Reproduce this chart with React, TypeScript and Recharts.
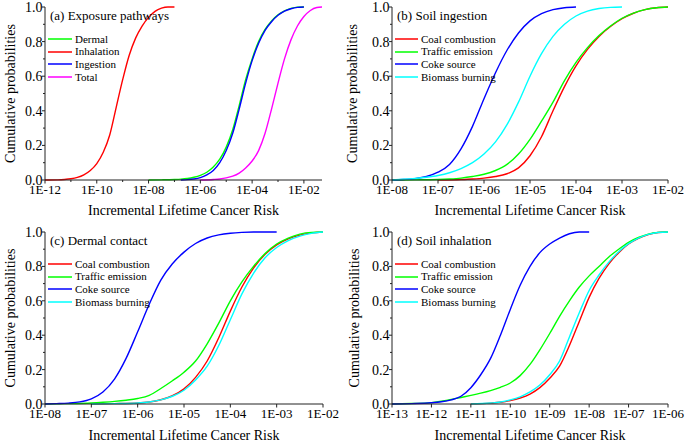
import React from 'react';
import { LineChart, Line, XAxis, YAxis, Legend } from 'recharts';

const FONT = '"Liberation Serif", "Times New Roman", serif';
const X_TITLE = 'Incremental Lifetime Cancer Risk';
const Y_TITLE = 'Cumulative probabilities';
const yTicks = [0, 0.1, 0.2, 0.3, 0.4, 0.5, 0.6, 0.7, 0.8, 0.9, 1.0];

// x values are kept as log10(risk)
// (a) Exposure pathways
const aTickExp = [-12, -11, -10, -9, -8, -7, -6, -5, -4, -3, -2];
const aTickLabels = ['1E-12', '', '1E-10', '', '1E-08', '', '1E-06', '', '1E-04', '', '1E-02'];
const aDermalLog = [-8.0, -7.5, -7.0, -6.75, -6.5, -6.25, -6.0, -5.75, -5.5, -5.25, -5.0, -4.75, -4.5, -4.25, -4.0, -3.75, -3.5, -3.25, -3.0, -2.75, -2.5, -2.25, -2.0];
const aDermalP = [0, 0.001, 0.003, 0.005, 0.009, 0.016, 0.027, 0.045, 0.075, 0.12, 0.19, 0.29, 0.43, 0.58, 0.7, 0.8, 0.87, 0.92, 0.955, 0.978, 0.992, 0.999, 1.0];
const aInhalLog = [-12.0, -11.5, -11.25, -11.0, -10.75, -10.5, -10.25, -10.0, -9.75, -9.5, -9.25, -9.0, -8.75, -8.5, -8.25, -8.0, -7.75, -7.5, -7.25, -7.0];
const aInhalP = [0, 0.001, 0.003, 0.007, 0.015, 0.03, 0.055, 0.095, 0.16, 0.26, 0.42, 0.58, 0.72, 0.82, 0.89, 0.94, 0.975, 0.993, 1.0, 1.0];
const aIngestLog = [-6.75, -6.5, -6.25, -6.0, -5.75, -5.5, -5.25, -5.0, -4.75, -4.5, -4.25, -4.0, -3.75, -3.5, -3.25, -3.0, -2.75, -2.5, -2.25, -2.0];
const aIngestP = [0, 0.002, 0.006, 0.014, 0.03, 0.055, 0.1, 0.17, 0.27, 0.41, 0.56, 0.69, 0.79, 0.865, 0.915, 0.952, 0.976, 0.99, 0.998, 1.0];
const aTotalLog = [-6.0, -5.5, -5.25, -5.0, -4.75, -4.5, -4.25, -4.0, -3.75, -3.5, -3.25, -3.0, -2.75, -2.5, -2.25, -2.0, -1.75, -1.5, -1.3];
const aTotalP = [0, 0.003, 0.006, 0.012, 0.022, 0.04, 0.07, 0.11, 0.17, 0.27, 0.41, 0.56, 0.7, 0.81, 0.89, 0.945, 0.98, 0.997, 1.0];

// (b) Soil ingestion
const bTickExp = [-8, -7, -6, -5, -4, -3, -2];
const bTickLabels = ['1E-08', '1E-07', '1E-06', '1E-05', '1E-04', '1E-03', '1E-02'];
const bCoalLog = [-7.0, -6.5, -6.25, -6.0, -5.75, -5.5, -5.25, -5.0, -4.75, -4.5, -4.25, -4.0, -3.75, -3.5, -3.25, -3.0, -2.75, -2.5, -2.25, -2.0];
const bCoalP = [0, 0.003, 0.006, 0.011, 0.02, 0.036, 0.07, 0.14, 0.25, 0.4, 0.54, 0.66, 0.755, 0.83, 0.887, 0.932, 0.964, 0.985, 0.996, 1.0];
const bTrafficLog = [-8.0, -7.5, -7.0, -6.75, -6.5, -6.25, -6.0, -5.75, -5.5, -5.25, -5.0, -4.75, -4.5, -4.25, -4.0, -3.75, -3.5, -3.25, -3.0, -2.75, -2.5, -2.25, -2.0];
const bTrafficP = [0, 0.001, 0.003, 0.006, 0.011, 0.02, 0.033, 0.055, 0.09, 0.15, 0.235, 0.34, 0.45, 0.575, 0.68, 0.765, 0.835, 0.89, 0.935, 0.965, 0.985, 0.996, 1.0];
const bCokeLog = [-8.0, -7.75, -7.5, -7.25, -7.0, -6.75, -6.5, -6.25, -6.0, -5.75, -5.5, -5.25, -5.0, -4.75, -4.5, -4.25, -4.0];
const bCokeP = [0, 0.003, 0.008, 0.02, 0.045, 0.09, 0.18, 0.31, 0.47, 0.62, 0.75, 0.85, 0.92, 0.962, 0.985, 0.996, 1.0];
const bBiomassLog = [-8.0, -7.75, -7.5, -7.25, -7.0, -6.75, -6.5, -6.25, -6.0, -5.75, -5.5, -5.25, -5.0, -4.75, -4.5, -4.25, -4.0, -3.75, -3.5, -3.25, -3.0];
const bBiomassP = [0, 0.004, 0.009, 0.016, 0.026, 0.042, 0.066, 0.1, 0.15, 0.22, 0.32, 0.45, 0.6, 0.73, 0.83, 0.9, 0.948, 0.976, 0.991, 0.998, 1.0];

// (c) Dermal contact
const cTickExp = [-8, -7, -6, -5, -4, -3, -2];
const cTickLabels = ['1E-08', '1E-07', '1E-06', '1E-05', '1E-04', '1E-03', '1E-02'];
const cCoalLog = [-7.0, -6.5, -6.0, -5.75, -5.5, -5.25, -5.0, -4.75, -4.5, -4.25, -4.0, -3.75, -3.5, -3.25, -3.0, -2.75, -2.5, -2.25, -2.0];
const cCoalP = [0, 0.002, 0.006, 0.012, 0.025, 0.048, 0.088, 0.155, 0.25, 0.385, 0.54, 0.68, 0.79, 0.87, 0.925, 0.96, 0.982, 0.995, 1.0];
const cTrafficLog = [-8.0, -7.5, -7.0, -6.75, -6.5, -6.25, -6.0, -5.75, -5.5, -5.25, -5.0, -4.75, -4.5, -4.25, -4.0, -3.75, -3.5, -3.25, -3.0, -2.75, -2.5, -2.25, -2.0];
const cTrafficP = [0, 0.002, 0.006, 0.01, 0.015, 0.022, 0.032, 0.05, 0.09, 0.135, 0.185, 0.25, 0.35, 0.47, 0.6, 0.71, 0.8, 0.875, 0.93, 0.965, 0.988, 0.998, 1.0];
const cCokeLog = [-8.0, -7.75, -7.5, -7.25, -7.0, -6.75, -6.5, -6.25, -6.0, -5.75, -5.5, -5.25, -5.0, -4.75, -4.5, -4.25, -4.0, -3.75, -3.5, -3.0];
const cCokeP = [0, 0.002, 0.005, 0.012, 0.03, 0.07, 0.145, 0.265, 0.42, 0.58, 0.72, 0.815, 0.883, 0.933, 0.965, 0.983, 0.993, 0.998, 1.0, 1.0];
const cBiomassLog = [-7.0, -6.5, -6.0, -5.75, -5.5, -5.25, -5.0, -4.75, -4.5, -4.25, -4.0, -3.75, -3.5, -3.25, -3.0, -2.75, -2.5, -2.25, -2.0];
const cBiomassP = [0, 0.002, 0.006, 0.012, 0.024, 0.045, 0.08, 0.14, 0.22, 0.34, 0.49, 0.64, 0.76, 0.85, 0.91, 0.95, 0.976, 0.992, 1.0];

// (d) Soil inhalation
const dTickExp = [-13, -12, -11, -10, -9, -8, -7, -6];
const dTickLabels = ['1E-13', '1E-12', '1E-11', '1E-10', '1E-09', '1E-08', '1E-07', '1E-06'];
const dCoalLog = [-11.0, -10.5, -10.25, -10.0, -9.75, -9.5, -9.25, -9.0, -8.75, -8.5, -8.25, -8.0, -7.75, -7.5, -7.25, -7.0, -6.75, -6.5, -6.25, -6.0];
const dCoalP = [0, 0.005, 0.01, 0.02, 0.035, 0.058, 0.095, 0.15, 0.22, 0.34, 0.48, 0.62, 0.73, 0.815, 0.88, 0.93, 0.963, 0.985, 0.997, 1.0];
const dTrafficLog = [-13.0, -12.5, -12.0, -11.75, -11.5, -11.25, -11.0, -10.75, -10.5, -10.25, -10.0, -9.75, -9.5, -9.25, -9.0, -8.75, -8.5, -8.25, -8.0, -7.75, -7.5, -7.25, -7.0, -6.75, -6.5, -6.25, -6.0];
const dTrafficP = [0, 0.003, 0.008, 0.016, 0.026, 0.038, 0.05, 0.063, 0.078, 0.097, 0.122, 0.165, 0.23, 0.315, 0.41, 0.51, 0.6, 0.68, 0.745, 0.8, 0.855, 0.9, 0.94, 0.968, 0.988, 0.998, 1.0];
const dCokeLog = [-13.0, -12.5, -12.0, -11.75, -11.5, -11.25, -11.0, -10.75, -10.5, -10.25, -10.0, -9.75, -9.5, -9.25, -9.0, -8.75, -8.5, -8.25, -8.0];
const dCokeP = [0, 0.002, 0.007, 0.013, 0.024, 0.045, 0.095, 0.17, 0.265, 0.4, 0.55, 0.69, 0.8, 0.88, 0.93, 0.965, 0.99, 1.0, 1.0];
const dBiomassLog = [-11.0, -10.5, -10.25, -10.0, -9.75, -9.5, -9.25, -9.0, -8.75, -8.5, -8.25, -8.0, -7.75, -7.5, -7.25, -7.0, -6.75, -6.5, -6.25, -6.0];
const dBiomassP = [0, 0.006, 0.012, 0.024, 0.042, 0.07, 0.11, 0.17, 0.25, 0.39, 0.53, 0.66, 0.75, 0.825, 0.885, 0.932, 0.965, 0.986, 0.997, 1.0];

const RED = '#FF0000';
const GREEN = '#00FF00';
const BLUE = '#0000FF';
const MAGENTA = '#FF00FF';
const CYAN = '#00FFFF';

const toPoints = (logs: number[], probs: number[]) =>
  logs.map((e, i) => ({ x: Math.pow(10, e), p: probs[i] }));

interface Series { name: string; color: string; logs: number[]; probs: number[] }

const XTick = ({ x, y, payload, exps, labels }: any) => {
  const e = Math.round(Math.log10(payload.value));
  const label = labels[exps.indexOf(e)] || '';
  return (
    <g>
      <line x1={x} x2={x} y1={y} y2={y + (label ? 3.5 : 2)} stroke="#222" />
      {label && (
        <text x={x} y={y + 14} textAnchor="middle" fontSize={13} fontFamily={FONT} fill="#000">
          {label}
        </text>
      )}
    </g>
  );
};

const YTick = ({ x, y, payload }: any) => {
  const v = payload.value as number;
  const major = Math.round(v * 10) % 2 === 0;
  return (
    <g>
      <line x1={x} x2={x - (major ? 3 : 2)} y1={y} y2={y} stroke="#222" />
      {major && (
        <text x={x - 2.5} y={y} dy="0.35em" textAnchor="end" fontSize={14} fontFamily={FONT} fill="#000">
          {v.toFixed(1)}
        </text>
      )}
    </g>
  );
};

const makeLegend = (title: string, series: Series[], swatch: number) => () => (
  <div style={{ fontFamily: FONT, color: '#000' }}>
    <div style={{ fontSize: 13, lineHeight: '16px', paddingLeft: 2, whiteSpace: 'nowrap' }}>{title}</div>
    <div style={{ height: 8.6 }} />
    {series.map((s) => (
      <div key={s.name} style={{ display: 'flex', alignItems: 'center', height: 12.7 }}>
        <svg width={swatch} height={4} style={{ display: 'block' }}>
          <line x1={0} x2={swatch} y1={2} y2={2} stroke={s.color} strokeWidth={1.5} />
        </svg>
        <span style={{ fontSize: 11, marginLeft: 3, whiteSpace: 'nowrap', lineHeight: '12.7px' }}>{s.name}</span>
      </div>
    ))}
  </div>
);

interface PanelProps {
  left: number; top: number; width: number; height: number;
  margin: { top: number; right: number; left: number; bottom: number };
  yWidth: number; xHeight: number; yLabelOffset: number; xLabelOffset: number;
  domain: [number, number]; tickExp: number[]; tickLabels: string[];
  title: string; series: Series[]; legendLeft: number; legendTop: number; swatch: number;
}

const Panel = (p: PanelProps) => (
  <div style={{ position: 'absolute', left: p.left, top: p.top }}>
    <LineChart width={p.width} height={p.height} margin={p.margin}>
      <XAxis
        dataKey="x"
        type="number"
        scale="log"
        domain={p.domain}
        allowDataOverflow
        ticks={p.tickExp.map((e) => Math.pow(10, e))}
        interval={0}
        tick={<XTick exps={p.tickExp} labels={p.tickLabels} />}
        tickLine={false}
        tickSize={0}
        tickMargin={0}
        height={p.xHeight}
        axisLine={{ stroke: '#222' }}
        label={{ value: X_TITLE, position: 'insideBottom', offset: p.xLabelOffset, style: { fontSize: 14, fontFamily: FONT, fill: '#000' } }}
      />
      <XAxis xAxisId="top" orientation="top" type="number" domain={[0, 1]} tick={false} tickLine={false} height={0} axisLine={{ stroke: '#888' }} />
      <YAxis
        type="number"
        domain={[0, 1]}
        ticks={yTicks}
        interval={0}
        tick={<YTick />}
        tickLine={false}
        tickSize={0}
        tickMargin={0}
        width={p.yWidth}
        axisLine={{ stroke: '#222' }}
        label={{ value: Y_TITLE, angle: -90, position: 'insideLeft', offset: p.yLabelOffset, style: { textAnchor: 'middle', fontSize: 14, fontFamily: FONT, fill: '#000' } }}
      />
      <YAxis yAxisId="right" orientation="right" type="number" domain={[0, 1]} tick={false} tickLine={false} width={0} axisLine={{ stroke: '#888' }} />
      <Legend
        layout="vertical"
        align="center"
        verticalAlign="middle"
        wrapperStyle={{ left: p.legendLeft, top: p.legendTop, width: 'auto', height: 'auto' }}
        content={makeLegend(p.title, p.series, p.swatch)}
      />
      {p.series.map((s) => (
        <Line
          key={s.name}
          data={toPoints(s.logs, s.probs)}
          dataKey="p"
          name={s.name}
          type="monotone"
          stroke={s.color}
          strokeWidth={1.4}
          dot={false}
          activeDot={false}
          isAnimationActive={false}
        />
      ))}
    </LineChart>
  </div>
);

const seriesA: Series[] = [
  { name: 'Dermal', color: GREEN, logs: aDermalLog, probs: aDermalP },
  { name: 'Inhalation', color: RED, logs: aInhalLog, probs: aInhalP },
  { name: 'Ingestion', color: BLUE, logs: aIngestLog, probs: aIngestP },
  { name: 'Total', color: MAGENTA, logs: aTotalLog, probs: aTotalP },
];
const seriesB: Series[] = [
  { name: 'Coal combustion', color: RED, logs: bCoalLog, probs: bCoalP },
  { name: 'Traffic emission', color: GREEN, logs: bTrafficLog, probs: bTrafficP },
  { name: 'Coke source', color: BLUE, logs: bCokeLog, probs: bCokeP },
  { name: 'Biomass burning', color: CYAN, logs: bBiomassLog, probs: bBiomassP },
];
const seriesC: Series[] = [
  { name: 'Coal combustion', color: RED, logs: cCoalLog, probs: cCoalP },
  { name: 'Traffic emission', color: GREEN, logs: cTrafficLog, probs: cTrafficP },
  { name: 'Coke source', color: BLUE, logs: cCokeLog, probs: cCokeP },
  { name: 'Biomass burning', color: CYAN, logs: cBiomassLog, probs: cBiomassP },
];
const seriesD: Series[] = [
  { name: 'Coal combustion', color: RED, logs: dCoalLog, probs: dCoalP },
  { name: 'Traffic emission', color: GREEN, logs: dTrafficLog, probs: dTrafficP },
  { name: 'Coke source', color: BLUE, logs: dCokeLog, probs: dCokeP },
  { name: 'Biomass burning', color: CYAN, logs: dBiomassLog, probs: dBiomassP },
];

export default function App() {
  return (
    <div style={{ position: 'absolute', left: 0, top: 0, width: 685, height: 442, background: '#fff' }}>
      <Panel
        left={0} top={0} width={342} height={221}
        margin={{ top: 7, right: 20, left: 0, bottom: 0 }}
        yWidth={45} xHeight={41} yLabelOffset={10} xLabelOffset={6}
        domain={[1e-12, 0.05]} tickExp={aTickExp} tickLabels={aTickLabels}
        title="(a) Exposure pathways" series={seriesA} legendLeft={48} legendTop={8} swatch={24}
      />
      <Panel
        left={342} top={0} width={343} height={221}
        margin={{ top: 7, right: 17, left: 0, bottom: 0 }}
        yWidth={50} xHeight={41} yLabelOffset={10.5} xLabelOffset={6.5}
        domain={[1e-8, 1e-2]} tickExp={bTickExp} tickLabels={bTickLabels}
        title="(b) Soil ingestion" series={seriesB} legendLeft={53} legendTop={8} swatch={23}
      />
      <Panel
        left={0} top={221} width={342} height={221}
        margin={{ top: 11, right: 19, left: 0, bottom: 0 }}
        yWidth={45} xHeight={38} yLabelOffset={10} xLabelOffset={2}
        domain={[1e-8, 1e-2]} tickExp={cTickExp} tickLabels={cTickLabels}
        title="(c) Dermal contact" series={seriesC} legendLeft={48} legendTop={12} swatch={24}
      />
      <Panel
        left={342} top={221} width={343} height={221}
        margin={{ top: 11, right: 17, left: 0, bottom: 0 }}
        yWidth={50} xHeight={38} yLabelOffset={12} xLabelOffset={2}
        domain={[1e-13, 1e-6]} tickExp={dTickExp} tickLabels={dTickLabels}
        title="(d) Soil inhalation" series={seriesD} legendLeft={53} legendTop={12} swatch={23}
      />
    </div>
  );
}
